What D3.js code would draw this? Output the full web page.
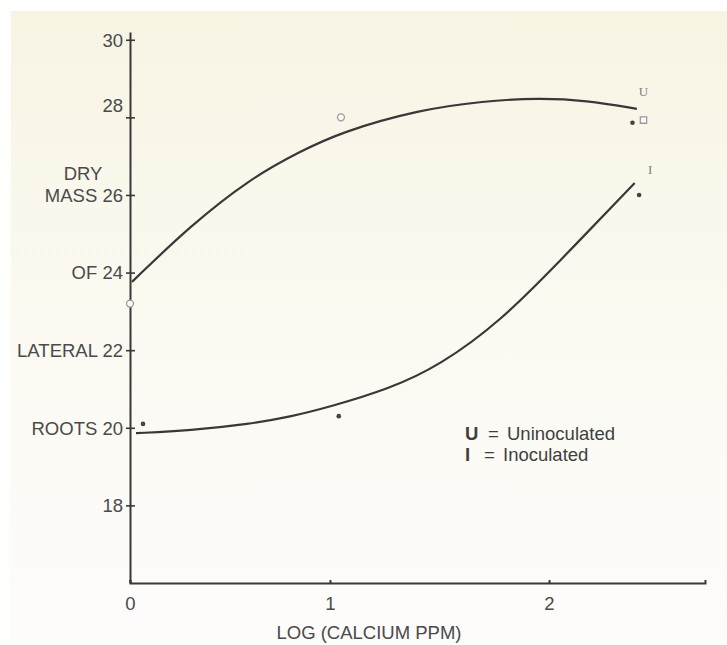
<!DOCTYPE html>
<html>
<head>
<meta charset="utf-8">
<script src="https://cdn.jsdelivr.net/npm/d3@7.9.0/dist/d3.min.js"></script>
<style>
  html, body { margin: 0; padding: 0; background: #fefefd; }
  svg { display: block; }
</style>
</head>
<body>
<div id="chart"></div>
<script>
// ticks
const xTicks = [0, 1, 2];
const yTicks = [18, 20, 22, 24, 26, 28, 30];
const yTickLabels = ["18", "ROOTS 20", "LATERAL 22", "OF 24", "MASS 26", "28", "30"];

// measured points, uninoculated (open symbols)
const uninocX = [0, 1.05, 2.43];
const uninocY = [23.2, 28.0, 27.93];
const uninocShape = ["circle", "circle", "square"];

// measured points, inoculated (filled dots)
const inocX = [0.065, 1.04, 2.38, 2.41];
const inocY = [20.1, 20.3, 27.86, 26.0];

// fitted curves
const uninocCurveX = [0.01, 0.3, 0.6, 0.85, 1.05, 1.41, 1.7, 1.95, 2.17, 2.4];
const uninocCurveY = [23.76, 25.2, 26.42, 27.12, 27.62, 28.2, 28.42, 28.5, 28.44, 28.22];
const inocCurveX = [0.03, 0.3, 0.6, 0.8, 1.0, 1.27, 1.5, 1.78, 2.05, 2.39];
const inocCurveY = [19.86, 19.93, 20.1, 20.28, 20.54, 21.0, 21.6, 22.75, 24.3, 26.31];

function renderChart() {
  const width = 727;
  const height = 645;
  const ink = "#383838";
  const textColor = "#4a4a4a";
  const font = "'Liberation Sans', Arial, sans-serif";
  const fontSize = "18.5px";

  const svg = d3.select("#chart")
    .append("svg")
    .attr("width", width)
    .attr("height", height)
    .style("font-family", font);

  // scanned paper background
  const grad = svg.append("defs").append("linearGradient")
    .attr("id", "paper").attr("x1", 0).attr("y1", 0).attr("x2", 0).attr("y2", 1);
  grad.append("stop").attr("offset", "0%").attr("stop-color", "#f8f4e4");
  grad.append("stop").attr("offset", "45%").attr("stop-color", "#fbf9f0");
  grad.append("stop").attr("offset", "100%").attr("stop-color", "#fdfcfb");

  svg.append("rect")
    .attr("x", 11).attr("y", 11)
    .attr("width", width - 11).attr("height", height - 16)
    .attr("fill", "url(#paper)");

  // the scan is slightly stretched between ticks, so x is piecewise
  const x = d3.scaleLinear()
    .domain([0, 1, 2, 2.71])
    .range([130, 330, 549, 705]);

  const y = d3.scaleLinear()
    .domain([16, 30.2])
    .range([583, 32]);

  // x axis
  const xAxis = svg.append("g")
    .attr("transform", `translate(0,${y(16)})`)
    .call(d3.axisBottom(x).tickValues(xTicks).tickSize(-3).tickFormat(d3.format("d")));
  xAxis.select(".domain").attr("stroke", ink).attr("stroke-width", 2);
  xAxis.selectAll(".tick line").attr("stroke", ink).attr("stroke-width", 2);
  xAxis.selectAll(".tick text")
    .attr("y", 14)
    .attr("fill", textColor)
    .style("font-size", fontSize)
    .style("font-family", font);

  // y axis, ticks cross the line
  const yAxis = svg.append("g")
    .attr("transform", `translate(${x(0)},0)`)
    .call(d3.axisLeft(y).tickValues(yTicks).tickSizeOuter(0)
      .tickFormat((d, i) => yTickLabels[i]));
  yAxis.select(".domain").attr("stroke", ink).attr("stroke-width", 2);
  yAxis.selectAll(".tick line")
    .attr("x1", -4).attr("x2", 5)
    .attr("stroke", ink).attr("stroke-width", 1.6);
  yAxis.selectAll(".tick text")
    .attr("x", -7)
    .attr("dy", d => d === 28 ? "-0.3em" : "0.34em")
    .attr("fill", textColor)
    .style("font-size", fontSize)
    .style("font-family", font);

  svg.append("text")
    .attr("x", 83)
    .attr("y", y(26) - 15)
    .attr("text-anchor", "middle")
    .attr("fill", textColor)
    .style("font-size", fontSize)
    .text("DRY");

  svg.append("text")
    .attr("x", 369)
    .attr("y", 639)
    .attr("text-anchor", "middle")
    .attr("fill", textColor)
    .style("font-size", fontSize)
    .text("LOG (CALCIUM PPM)");

  // curves
  const line = d3.line()
    .x(d => x(d[0]))
    .y(d => y(d[1]))
    .curve(d3.curveBasis);

  svg.append("path")
    .attr("d", line(d3.zip(uninocCurveX, uninocCurveY)))
    .attr("fill", "none")
    .attr("stroke", ink)
    .attr("stroke-width", 2.2);

  svg.append("path")
    .attr("d", line(d3.zip(inocCurveX, inocCurveY)))
    .attr("fill", "none")
    .attr("stroke", ink)
    .attr("stroke-width", 2.2);

  // points
  const uninoc = d3.zip(uninocX, uninocY, uninocShape);
  svg.append("g")
    .selectAll("path")
    .data(uninoc)
    .join("path")
    .attr("transform", d => `translate(${x(d[0])},${y(d[1])})`)
    .attr("d", d => d3.symbol(d[2] === "square" ? d3.symbolSquare : d3.symbolCircle, d[2] === "square" ? 40 : 38)())
    .attr("fill", "#fbfaf6")
    .attr("stroke", "#9a9a9a")
    .attr("stroke-width", 1.3);

  svg.append("g")
    .selectAll("circle")
    .data(d3.zip(inocX, inocY))
    .join("circle")
    .attr("cx", d => x(d[0]))
    .attr("cy", d => y(d[1]))
    .attr("r", 2.3)
    .attr("fill", "#444");

  // curve end labels
  const endLabel = (text, cx, cy) => svg.append("text")
    .attr("x", x(cx))
    .attr("y", y(cy))
    .attr("text-anchor", "middle")
    .attr("fill", "#7d7d7d")
    .style("font-family", "'Liberation Serif', 'DejaVu Serif', serif")
    .style("font-size", "13px")
    .text(text);
  endLabel("U", 2.43, 28.55);
  endLabel("I", 2.46, 26.55);

  // legend
  const legend = svg.append("g")
    .attr("fill", "#3f3f3f")
    .style("font-size", fontSize);
  const rows = [["U", "Uninoculated", 440, 488, 507], ["I", "Inoculated", 461, 484, 503]];
  rows.forEach(([key, label, by, eqX, labelX]) => {
    legend.append("text").attr("x", 465).attr("y", by)
      .style("font-weight", "bold").text(key);
    legend.append("text").attr("x", eqX).attr("y", by).text("=");
    legend.append("text").attr("x", labelX).attr("y", by).text(label);
  });
}

renderChart();
</script>
</body>
</html>
